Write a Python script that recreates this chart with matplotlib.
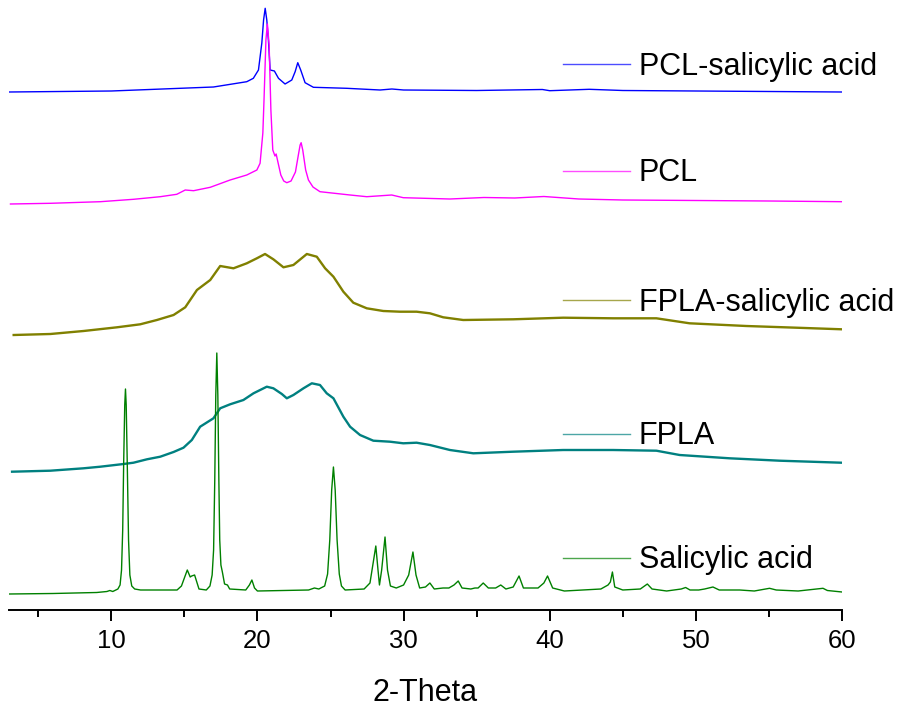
import matplotlib
matplotlib.use("Agg")
import matplotlib.pyplot as plt

plt.rcParams['font.family'] = ['Liberation Sans', 'DejaVu Sans']

# ---------------- data (2-Theta in degrees, stacked intensity a.u.) ----------------
sal_x = [3.0, 6.0, 9.0, 9.7, 9.9, 10.1, 10.45, 10.6, 10.7, 10.78, 10.85, 10.92, 10.97, 11.02,
         11.1, 11.18, 11.27, 11.4, 11.6,
         12.0, 14.5, 14.8, 15.0, 15.2, 15.4, 15.5, 15.7, 15.85, 16.0, 16.5, 16.75, 16.9, 17.0,
         17.08, 17.15, 17.22, 17.29, 17.36, 17.42, 17.5, 17.6, 17.75, 17.95, 18.1, 19.2, 19.45,
         19.62, 19.8, 20.0, 23.5, 23.9, 24.2, 24.6, 24.8, 24.95, 25.08, 25.2, 25.32, 25.45, 25.6,
         25.75, 26.0, 27.3, 27.7, 27.95, 28.1, 28.25, 28.35, 28.5, 28.73, 28.9, 29.1, 29.5, 30.0,
         30.35, 30.64, 30.85, 31.1, 31.5, 31.8, 32.1,
         32.7, 33.1, 33.45, 33.74, 34.0, 34.6, 34.88, 35.1, 35.45, 35.8, 36.3, 36.65, 37.0, 37.5,
         37.9, 38.2, 39.2, 39.6, 39.85, 40.2, 41.0, 43.5, 43.99, 44.15, 44.29, 44.45, 45.0, 46.2,
         46.68, 47.0, 48.0, 49.0, 49.3, 49.6, 50.2, 50.6, 51.17, 51.6, 53.0, 54.0, 55.04, 55.5,
         57.0, 58.7, 59.0, 60.0]
sal_y = [16, 16.5, 17.5, 18.5, 19.5, 18.5, 21, 25, 40, 80, 150, 205, 221, 205,
         140, 70, 35, 24, 21,
         20, 20, 24, 32, 40, 33, 34, 35, 28, 21, 20, 24, 35, 60,
         130, 215, 257, 215, 130, 70, 45, 38, 26, 25, 21, 20, 25,
         30, 22, 19, 20, 22, 21, 24, 36, 70, 120, 143, 120, 70, 36,
         24, 20, 21, 27, 50, 64, 40, 25, 40, 73, 40, 24, 22, 25,
         35, 58, 35, 22, 23, 27, 21,
         22, 22, 25, 29, 22, 21, 22, 22, 27, 22, 22, 25, 21, 23,
         34, 22, 22, 27, 34, 22, 19, 21, 25, 28, 38, 23, 20, 21,
         26, 21, 19, 21, 22.5, 20, 20, 21, 23, 20, 20, 19, 21.7, 20,
         19, 21.7, 19.5, 18]

fpla_x = [3.21, 5.83, 8.1, 9.25, 10.84, 11.52, 12.44, 13.35, 14.26, 14.94, 15.51, 16.08, 16.99,
          17.45, 18.13, 19.04, 19.73, 20.64, 21.09, 21.67, 22.01, 22.46, 23.15, 23.72, 24.28,
          24.74, 25.2, 25.88, 26.34, 27.02, 27.93, 29.07, 29.98, 30.89, 31.8, 33.17, 34.77,
          37.5, 40.92, 44.33, 47.3, 48.89, 52.31, 55.73, 59.95]
fpla_y = [138.3, 139.3, 141.7, 143.3, 146, 147.3, 150.7, 153.3, 158, 162.3, 170, 183.3, 191.7,
          201.7, 205.7, 210, 216.7, 223.3, 221.7, 216, 211.7, 215, 221.7, 226.7, 225,
          216.7, 211.7, 193.3, 183.3, 175, 169.3, 168.3, 166.7, 167.3, 165, 160, 156.7,
          158.3, 160, 160, 159.3, 155, 151.7, 149.3, 147.3]

fplasa_x = [3.32, 5.83, 8.1, 10.39, 11.98, 13.12, 14.26, 15.06, 15.86, 16.77, 17.45, 18.36, 19.27,
            19.96, 20.52, 21.09, 21.78, 22.46, 23.38, 24.06, 24.63, 25.2, 25.88, 26.56, 27.48,
            28.61, 29.75, 30.89, 31.8, 32.71, 34.08, 37.5, 40.92, 44.33, 47.3, 49.57, 53.45,
            56.87, 60.0]
fplasa_y = [275, 276, 279, 282.7, 285.7, 290, 295, 302.7, 320, 330, 344, 341.7, 346.7,
            351.7, 356, 350.7, 342.7, 345, 356, 353.3, 341.7, 333.3, 318.3, 307.3, 301.7,
            299, 298.3, 298.3, 296.7, 292.7, 290, 290.7, 292.3, 291.7, 291.7, 286.7, 284,
            282.3, 280.7]

pcl_x = [3.1, 5.83, 9.25, 11.52, 13.35, 14.48, 15.06, 15.63, 16.77, 18.13, 19.27, 19.96, 20.18,
         20.37, 20.45, 20.58, 20.68, 20.8, 20.92, 21.05, 21.2, 21.28, 21.4, 21.6, 21.8, 22.01,
         22.3, 22.6, 22.8, 22.92, 22.99, 23.1, 23.3, 23.49, 23.8, 24.28, 26.34, 27.48, 29.19,
         29.98, 33.17, 35.5, 37.6, 39.6, 42.0, 45.0, 50.0, 55.0, 60.0]
pcl_y = [406, 406.7, 408.3, 410.7, 413.3, 415.7, 420, 419.3, 422.7, 430, 435, 440, 446.7,
         477, 510, 570, 586, 565, 500, 460, 454, 456, 448, 435, 429, 427.3,
         429, 438, 455, 465, 467.3, 460, 440, 430, 423, 418.3, 415, 413.3, 415,
         412.3, 411, 412.5, 412, 413.5, 411, 410, 409.5, 409, 408.3]

pclsa_x = [3.0, 10.0, 14.72, 16.99, 19.27, 19.72, 20.07, 20.3, 20.42, 20.53, 20.64, 20.75, 20.87,
           21.16, 21.44, 21.89, 22.35, 22.58, 22.76, 22.96, 23.26, 23.83, 26.11, 28.39, 29.2,
           30.0, 35.0, 39.5, 40.0, 42.7, 45.0, 50.0, 55.0, 60.0]
pclsa_y = [518, 519, 521.7, 523, 528.3, 531.7, 540, 567, 590, 601.7, 590, 570, 540,
           539, 531.7, 526, 530, 538.3, 547.3, 540, 527.3, 522.7, 521.7, 520, 521,
           520, 519.5, 520.5, 519.3, 520.7, 519.5, 519, 518.5, 518]

series = [
    ("PCL-salicylic acid", pclsa_x, pclsa_y, "#0000FF", 1.0),
    ("PCL", pcl_x, pcl_y, "#FF00FF", 1.0),
    ("FPLA-salicylic acid", fplasa_x, fplasa_y, "#808000", 1.7),
    ("FPLA", fpla_x, fpla_y, "#008080", 1.7),
    ("Salicylic acid", sal_x, sal_y, "#008000", 1.0),
]

# legend item placement (data coords): y of sample line, y of text baseline
legend_line_y = [546, 439, 310, 176, 52]
legend_text_y = [535, 429, 299, 166, 42]
legend_x0, legend_x1, legend_tx = 40.9, 45.5, 46.1

x_ticks = [10, 20, 30, 40, 50, 60]
x_minor = [5, 15, 25, 35, 45, 55]

# ---------------- figure ----------------
fig = plt.figure(figsize=(8.99, 7.15), dpi=100)
ax = fig.add_axes([9 / 899, 105 / 715, 833 / 899, 610 / 715])

for (name, xs, ys, col, lw), ly, ty in zip(series, legend_line_y, legend_text_y):
    ax.plot(xs, ys, color=col, lw=lw, solid_joinstyle='round')
    ax.plot([legend_x0, legend_x1], [ly, ly], color=col, lw=1.0, alpha=0.7, clip_on=False)
    ax.text(legend_tx, ty, name, fontsize=22, va='baseline', ha='left', color='black', clip_on=False)

ax.set_xlim(3, 60)
ax.set_ylim(0, 610)
for s in ['top', 'left', 'right']:
    ax.spines[s].set_visible(False)
ax.spines['bottom'].set_linewidth(1.4)
ax.set_yticks([])
ax.set_xticks(x_ticks)
ax.set_xticks(x_minor, minor=True)
ax.tick_params(axis='x', which='major', direction='out', length=8, width=1.4, labelsize=18.5, pad=6)
ax.tick_params(axis='x', which='minor', direction='out', length=5, width=1.4)
ax.set_xlabel("2-Theta", fontsize=22, labelpad=18)

fig.savefig("out.png", dpi=100)
